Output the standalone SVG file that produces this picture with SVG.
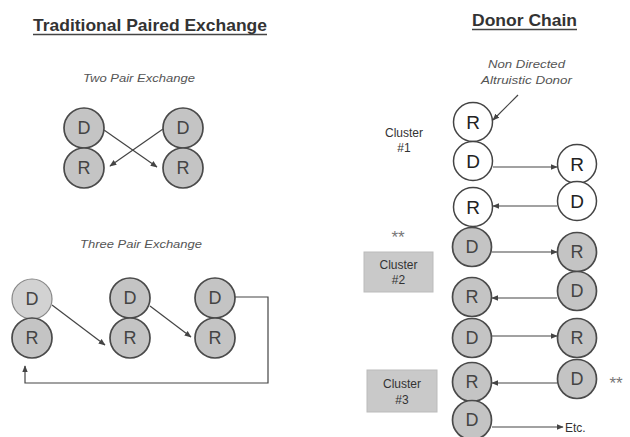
<svg xmlns="http://www.w3.org/2000/svg" width="630" height="437" viewBox="0 0 630 437">
<style>
.title{font-family:"Liberation Sans",Arial,sans-serif;font-weight:bold;fill:#333;}
.sub{font-family:"Liberation Sans",Arial,sans-serif;font-style:italic;font-size:11px;fill:#555;}
.lbl{font-family:"Liberation Sans",Arial,sans-serif;font-size:12px;fill:#333;text-anchor:middle;}
.g{fill:#c4c4c4;stroke:#4a4a4a;stroke-width:1.7;}
.g2{fill:#d2d2d2;stroke:#888;stroke-width:1.2;}
.w{fill:#fff;stroke:#444;stroke-width:1.5;}
.lt{font-family:"Liberation Sans",Arial,sans-serif;font-size:18px;fill:#444;text-anchor:middle;dominant-baseline:central;}
.lw{font-family:"Liberation Sans",Arial,sans-serif;font-size:19px;fill:#222;text-anchor:middle;dominant-baseline:central;}
.c{fill:none;stroke:#444;stroke-width:1.2;}
.box{fill:#c9c9c9;stroke:#bbb;stroke-width:1;}
.ast{font-family:"Liberation Sans",Arial,sans-serif;font-size:17px;fill:#777;text-anchor:middle;}
</style>
<defs>
<marker id="ah" viewBox="0 0 10 10" refX="9" refY="5" markerWidth="7" markerHeight="7" orient="auto" markerUnits="userSpaceOnUse">
<path d="M0,1 L10,5 L0,9 z" fill="#444"/>
</marker>
</defs>
<rect width="630" height="437" fill="#fff"/>

<g id="titles">
<text class="title" x="33" y="31" font-size="17" textLength="234" lengthAdjust="spacingAndGlyphs">Traditional Paired Exchange</text>
<line x1="33" y1="34.5" x2="267" y2="34.5" stroke="#444" stroke-width="1.5"/>
<text class="title" x="472" y="26" font-size="17" textLength="105" lengthAdjust="spacingAndGlyphs">Donor Chain</text>
<line x1="472" y1="29.5" x2="577" y2="29.5" stroke="#444" stroke-width="1.5"/>
<text class="sub" x="83" y="82" textLength="112" lengthAdjust="spacingAndGlyphs">Two Pair Exchange</text>
<text class="sub" x="80" y="248" textLength="122" lengthAdjust="spacingAndGlyphs">Three Pair Exchange</text>
<text class="sub" x="488" y="68" textLength="77" lengthAdjust="spacingAndGlyphs">Non Directed</text>
<text class="sub" x="481" y="84" textLength="91" lengthAdjust="spacingAndGlyphs">Altruistic Donor</text>
</g>

<g id="connectors">
<line class="c" x1="104" y1="130" x2="157" y2="167" marker-end="url(#ah)"/>
<line class="c" x1="163" y1="129" x2="110" y2="166" marker-end="url(#ah)"/>
<line class="c" x1="52" y1="305" x2="105" y2="345" marker-end="url(#ah)"/>
<line class="c" x1="150" y1="306" x2="191" y2="337" marker-end="url(#ah)"/>
<polyline class="c" points="235,297 268,297 268,383 25,383 25,366" marker-end="url(#ah)"/>
<line class="c" x1="518" y1="95" x2="493" y2="120" marker-end="url(#ah)"/>
<line class="c" x1="493" y1="167" x2="557" y2="167" marker-end="url(#ah)"/>
<line class="c" x1="557" y1="206" x2="493" y2="206" marker-end="url(#ah)"/>
<line class="c" x1="492" y1="252" x2="557" y2="252" marker-end="url(#ah)"/>
<line class="c" x1="557" y1="298" x2="492" y2="298" marker-end="url(#ah)"/>
<line class="c" x1="492" y1="336" x2="557" y2="336" marker-end="url(#ah)"/>
<line class="c" x1="557" y1="383" x2="492" y2="383" marker-end="url(#ah)"/>
<line class="c" x1="492" y1="427" x2="563" y2="427" marker-end="url(#ah)"/>
</g>

<g id="two-pair-1-D"><circle class="g" cx="84" cy="128" r="20"/><text class="lt" x="84" y="128">D</text></g>
<g id="two-pair-1-R"><circle class="g" cx="84" cy="168" r="20"/><text class="lt" x="84" y="168">R</text></g>
<g id="two-pair-2-D"><circle class="g" cx="183" cy="128" r="20"/><text class="lt" x="183" y="128">D</text></g>
<g id="two-pair-2-R"><circle class="g" cx="183" cy="168" r="20"/><text class="lt" x="183" y="168">R</text></g>

<g id="three-pair-1-D"><circle class="g2" cx="32" cy="299" r="20"/><text class="lt" x="32" y="299">D</text></g>
<g id="three-pair-1-R"><circle class="g" cx="32" cy="338" r="20"/><text class="lt" x="32" y="338">R</text></g>
<g id="three-pair-2-D"><circle class="g" cx="130" cy="298" r="20"/><text class="lt" x="130" y="298">D</text></g>
<g id="three-pair-2-R"><circle class="g" cx="130" cy="338" r="20"/><text class="lt" x="130" y="338">R</text></g>
<g id="three-pair-3-D"><circle class="g" cx="215" cy="298" r="20"/><text class="lt" x="215" y="298">D</text></g>
<g id="three-pair-3-R"><circle class="g" cx="215" cy="338" r="20"/><text class="lt" x="215" y="338">R</text></g>

<g id="chain-L1-R"><circle class="w" cx="473" cy="122" r="19.5"/><text class="lw" x="473" y="122">R</text></g>
<g id="chain-L2-D"><circle class="w" cx="473" cy="161" r="19.5"/><text class="lw" x="473" y="161">D</text></g>
<g id="chain-L3-R"><circle class="w" cx="473" cy="207" r="19.5"/><text class="lw" x="473" y="207">R</text></g>
<g id="chain-L4-D"><circle class="g" cx="472" cy="247" r="19.5"/><text class="lt" x="472" y="247">D</text></g>
<g id="chain-L5-R"><circle class="g" cx="472" cy="297" r="19.5"/><text class="lt" x="472" y="297">R</text></g>
<g id="chain-L6-D"><circle class="g" cx="472" cy="338" r="19.5"/><text class="lt" x="472" y="338">D</text></g>
<g id="chain-L7-R"><circle class="g" cx="472" cy="382" r="19.5"/><text class="lt" x="472" y="382">R</text></g>
<g id="chain-L8-D"><circle class="g" cx="472" cy="420" r="19.5"/><text class="lt" x="472" y="420">D</text></g>

<g id="chain-R1-R"><circle class="w" cx="577" cy="164" r="19.5"/><text class="lw" x="577" y="164">R</text></g>
<g id="chain-R2-D"><circle class="w" cx="577" cy="201" r="19.5"/><text class="lw" x="577" y="201">D</text></g>
<g id="chain-R3-R"><circle class="g" cx="577" cy="252" r="19.5"/><text class="lt" x="577" y="252">R</text></g>
<g id="chain-R4-D"><circle class="g" cx="577" cy="291" r="19.5"/><text class="lt" x="577" y="291">D</text></g>
<g id="chain-R5-R"><circle class="g" cx="577" cy="338" r="19.5"/><text class="lt" x="577" y="338">R</text></g>
<g id="chain-R6-D"><circle class="g" cx="577" cy="379" r="19.5"/><text class="lt" x="577" y="379">D</text></g>

<g id="cluster-1">
<text class="lbl" x="404" y="137">Cluster</text>
<text class="lbl" x="404" y="152">#1</text>
</g>
<g id="cluster-2">
<text class="ast" x="398" y="243">**</text>
<rect class="box" x="364" y="252" width="69" height="40"/>
<text class="lbl" x="398.5" y="269" fill="#555">Cluster</text>
<text class="lbl" x="398.5" y="284" fill="#555">#2</text>
</g>
<g id="cluster-3">
<rect class="box" x="367" y="370" width="70" height="42"/>
<text class="lbl" x="402" y="388" fill="#555">Cluster</text>
<text class="lbl" x="402" y="404" fill="#555">#3</text>
</g>
<g id="labels-right">
<text class="ast" x="616" y="389">**</text>
<text class="lbl" x="565" y="432" style="text-anchor:start" font-size="13">Etc.</text>
</g>
</svg>
